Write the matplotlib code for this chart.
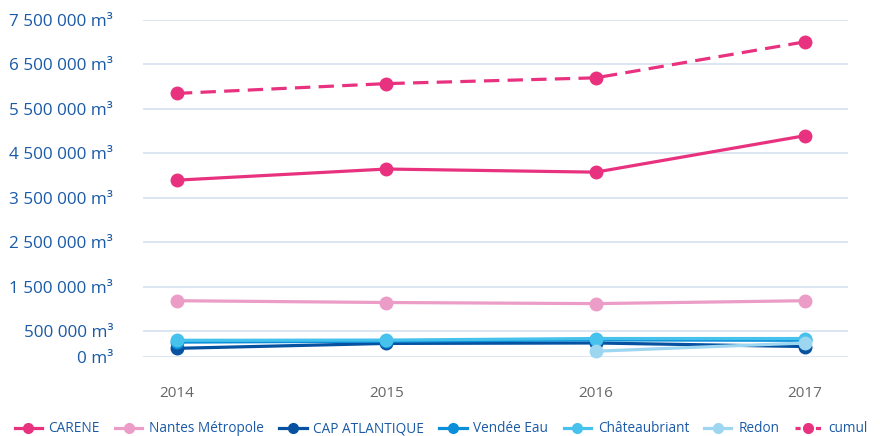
import matplotlib
matplotlib.use("Agg")
import matplotlib.pyplot as plt

plt.rcParams['font.family'] = ['Open Sans', 'DejaVu Sans']

years = [2014, 2015, 2016, 2017]
carene = [3900000, 4150000, 4080000, 4900000]
nantes = [1190000, 1150000, 1125000, 1190000]
cap_atlantique = [120000, 230000, 240000, 160000]
vendee_eau = [260000, 280000, 310000, 300000]
chateaubriant = [300000, 305000, 340000, 340000]
redon_years = [2016, 2017]
redon = [55000, 240000]
cumul = [5850000, 6070000, 6200000, 7010000]

tick_values = [-75000, 500000, 1500000, 2500000, 3500000, 4500000, 5500000, 6500000, 7500000]
tick_labels = ["0 m³", "500 000 m³", "1 500 000 m³", "2 500 000 m³", "3 500 000 m³",
               "4 500 000 m³", "5 500 000 m³", "6 500 000 m³", "7 500 000 m³"]

fig = plt.figure(figsize=(8.8, 4.36), dpi=100)
ax = fig.add_axes([143/880, 1-357/436, (848-143)/880, (357-20)/436])

lw = 2.3
ms = 9
series = [
    ("CARENE", years, carene, "#e8327f", "-"),
    ("Nantes Métropole", years, nantes, "#eb9cc7", "-"),
    ("CAP ATLANTIQUE", years, cap_atlantique, "#0652a1", "-"),
    ("Vendée Eau", years, vendee_eau, "#0b8fd8", "-"),
    ("Châteaubriant", years, chateaubriant, "#46c2ec", "-"),
    ("Redon", redon_years, redon, "#9dd6f0", "-"),
    ("cumul", years, cumul, "#e8327f", (0, (4.8, 2.6))),
]
handles = []
for name, xs, ys, c, ls in series:
    h, = ax.plot(xs, ys, color=c, lw=lw, ls=ls, marker="o", ms=ms, label=name,
                 clip_on=False, solid_capstyle="round")
    handles.append(h)

ax.set_xlim(2014 - 0.162, 2017 + 0.205)
ax.set_ylim(tick_values[0], tick_values[-1])
ax.set_yticks(tick_values)
ax.set_yticklabels(tick_labels)
ax.set_xticks(years)
ax.set_xticklabels([str(y) for y in years])
ax.grid(axis="y", color="#d6e2f0", lw=1.2)
ax.set_axisbelow(True)
for s in ax.spines.values():
    s.set_visible(False)
ax.tick_params(axis="y", length=0, pad=21.5, labelsize=12.3, labelcolor="#1a5aa6")
ax.tick_params(axis="x", length=0, pad=21, labelsize=11, labelcolor="#666666")

leg_handles = []
for h in handles:
    lh = plt.Line2D([], [], color=h.get_color(), lw=lw,
                    ls=(0, (1.6, 1.6)) if h.get_label() == "cumul" else "-",
                    marker="o", ms=7, label=h.get_label())
    leg_handles.append(lh)

fig.legend(handles=leg_handles, loc="lower left", bbox_to_anchor=(0.008, -0.018), ncol=7,
           frameon=False, fontsize=9.8, labelcolor="#1a5aa6", handlelength=2.0,
           handletextpad=0.5, columnspacing=1.12, borderaxespad=0.15)

fig.savefig("out.png", dpi=100)
